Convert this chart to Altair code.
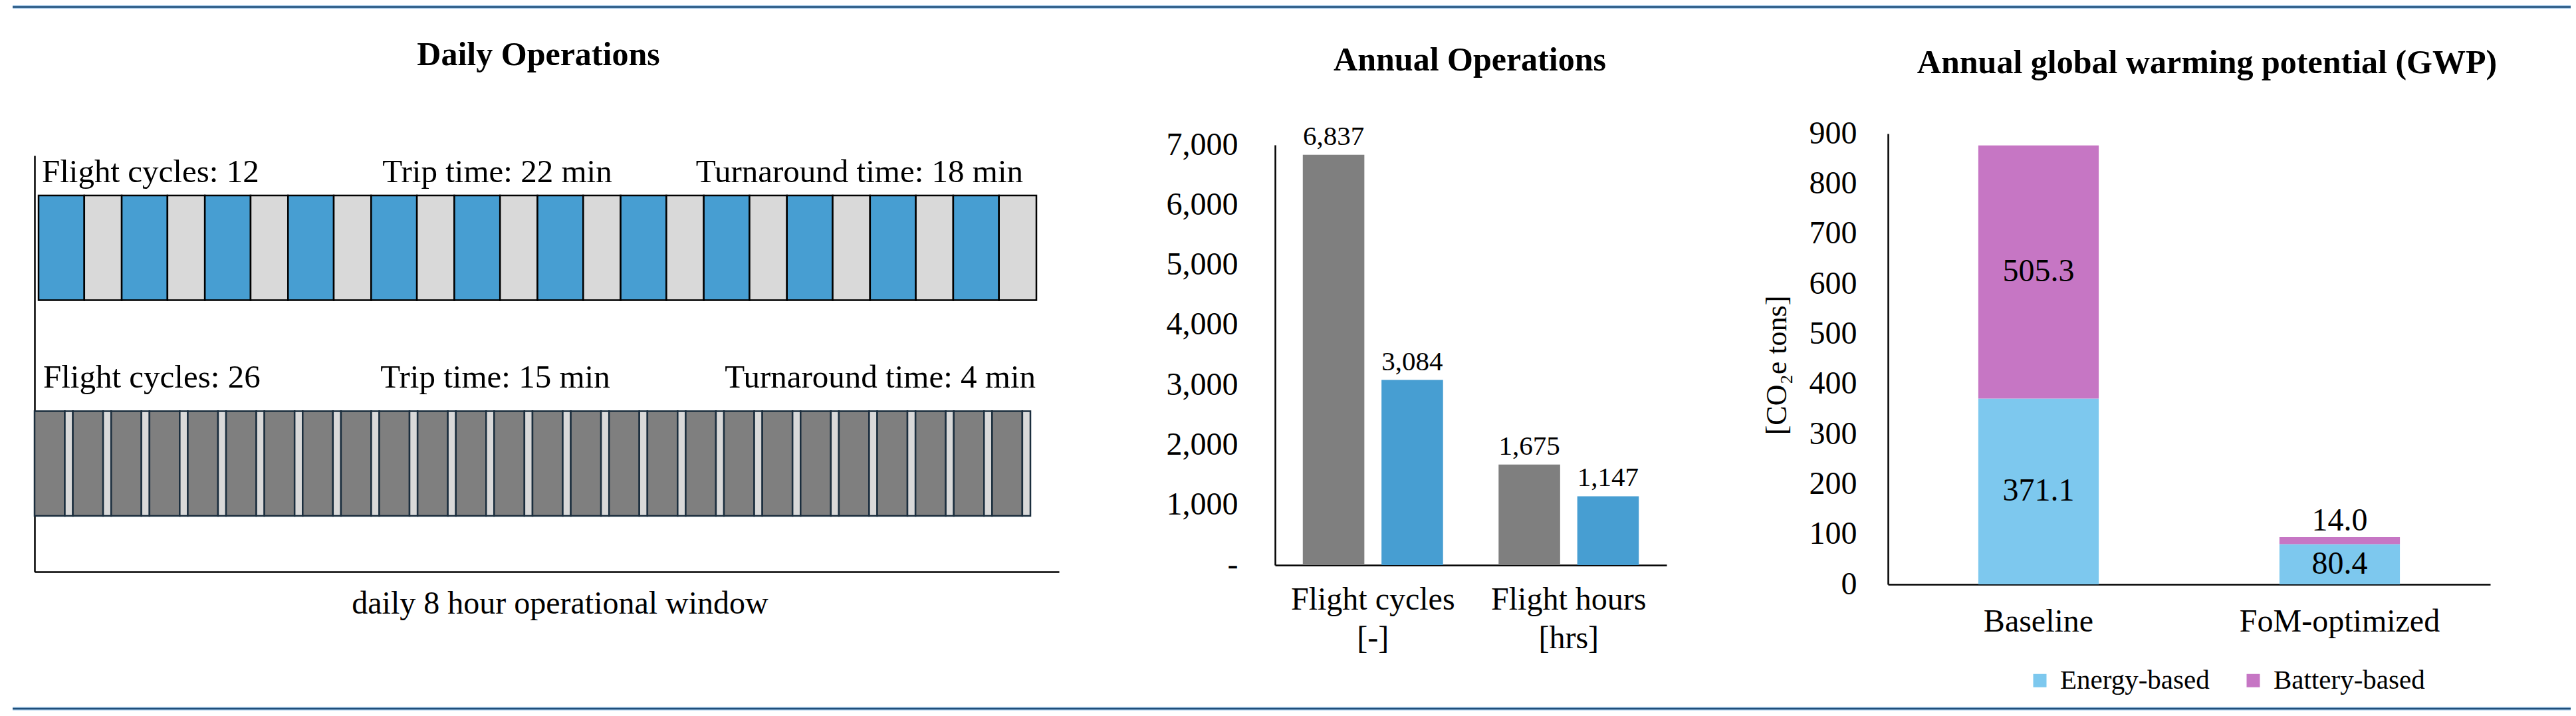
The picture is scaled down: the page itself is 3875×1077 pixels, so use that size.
import altair as alt
import pandas as pd

# ---------------- data ----------------
rows = ["FoM-optimized", "Baseline"]          # top row, bottom row
flight_cycles = [12, 26]
trip_time_min = [22, 15]
turnaround_min = [18, 4]
window_hours = 8

ops_metrics = ["Flight cycles|[-]", "Flight hours|[hrs]"]
ops_series = ["Baseline", "FoM-optimized"]
ops_baseline = [6837, 1675]
ops_optimized = [3084, 1147]
ops_ticks = [0, 1000, 2000, 3000, 4000, 5000, 6000, 7000]

gwp_configs = ["Baseline", "FoM-optimized"]
gwp_components = ["Energy-based", "Battery-based"]
gwp_energy = [371.1, 80.4]
gwp_battery = [505.3, 14.0]
gwp_ticks = [0, 100, 200, 300, 400, 500, 600, 700, 800, 900]

panel_titles = ["Daily Operations", "Annual Operations", "Annual global warming potential (GWP)"]
window_label = "daily 8 hour operational window"
gwp_axis_title = "[CO\u2082e tons]"

# ---------------- tables ----------------
seg = []
for r, n, t, ta in zip(rows, flight_cycles, trip_time_min, turnaround_min):
    for i in range(n):
        s = i * (t + ta)
        seg.append(dict(row=r, phase="Trip", start=s, end=s + t))
        seg.append(dict(row=r, phase="Turnaround", start=s + t, end=s + t + ta))
seg_df = pd.DataFrame(seg)

ops_df = pd.DataFrame(
    [dict(metric=m, series="Baseline", value=v) for m, v in zip(ops_metrics, ops_baseline)]
    + [dict(metric=m, series="FoM-optimized", value=v) for m, v in zip(ops_metrics, ops_optimized)]
)

gwp_df = pd.DataFrame(
    [dict(config=c, component="Energy-based", k=0, value=v) for c, v in zip(gwp_configs, gwp_energy)]
    + [dict(config=c, component="Battery-based", k=1, value=v) for c, v in zip(gwp_configs, gwp_battery)]
)

one = pd.DataFrame({"k": [0]})

SERIF = "Liberation Serif"
W, H = 3859, 1061

layers = []

# ---------------- frame lines (top / bottom) ----------------
for yy in (2.5, 1058):
    layers.append(alt.Chart(one).mark_rule(color="#9DC3E6", strokeWidth=5).encode(
        x=alt.value(11), x2=alt.value(W), y=alt.value(yy)))
    layers.append(alt.Chart(one).mark_rule(color="#1F4E79", strokeWidth=2.5).encode(
        x=alt.value(11), x2=alt.value(W), y=alt.value(yy)))

# ---------------- panel 1: daily operations ----------------
win_df = pd.DataFrame({"minute": [0, window_hours * 60], "level": [0, 1]})
layers.append(alt.Chart(win_df).mark_point(opacity=0).encode(
    x=alt.X("minute:Q",
            scale=alt.Scale(domain=[0, window_hours * 60], range=[44, 1585], nice=False, zero=False),
            axis=alt.Axis(orient="bottom", offset=852 - H, domain=True, domainColor="black",
                          domainWidth=2.5, ticks=False, labels=False, grid=False,
                          title=window_label, titleFont=SERIF, titleFontSize=48,
                          titleFontWeight="normal", titleColor="black", titleLimit=0,
                          titleX=834, titleY=62, titleBaseline="alphabetic")),
    y=alt.Y("level:Q",
            scale=alt.Scale(domain=[0, 1], range=[852, 226], nice=False),
            axis=alt.Axis(orient="left", offset=-44, domain=True, domainColor="black",
                          domainWidth=2.5, ticks=False, labels=False, grid=False, title=None)),
))

row_style = {
    "FoM-optimized": dict(xr=[50, 1551], fills=["#479ED2", "#D9D9D9"], stroke="#000000"),
    "Baseline": dict(xr=[44, 1542], fills=["#7F7F7F", "#D9D9D9"], stroke="#1B2E3E"),
}
for r, n, t, ta in zip(rows, flight_cycles, trip_time_min, turnaround_min):
    st = row_style[r]
    total = n * (t + ta)
    layers.append(alt.Chart(seg_df[seg_df.row == r]).mark_bar(stroke=st["stroke"], strokeWidth=2.5).encode(
        x=alt.X("start:Q", scale=alt.Scale(domain=[0, total], range=st["xr"], nice=False, zero=False), axis=None),
        x2="end:Q",
        y=alt.Y("row:N", scale=alt.Scale(domain=rows, range=[286, 768], paddingInner=0.515, paddingOuter=0), axis=None),
        color=alt.Color("phase:N", scale=alt.Scale(domain=["Trip", "Turnaround"], range=st["fills"]), legend=None),
    ))

# annotations above each row
ann_pos = {
    "FoM-optimized": dict(y=266, left=55, center=740, right=1531),
    "Baseline": dict(y=575, left=57, center=737, right=1550),
}
for r, n, t, ta in zip(rows, flight_cycles, trip_time_min, turnaround_min):
    p = ann_pos[r]
    for txt, key, al in ((f"Flight cycles: {n}", "left", "left"),
                         (f"Trip time: {t} min", "center", "center"),
                         (f"Turnaround time: {ta} min", "right", "right")):
        layers.append(alt.Chart(one).mark_text(font=SERIF, fontSize=49, align=al, baseline="alphabetic",
                                               color="black").encode(
            x=alt.value(p[key]), y=alt.value(p["y"]), text=alt.value(txt)))

# panel titles
for txt, xx, yy in zip(panel_titles, [802, 2203, 3312], [90, 98, 102]):
    layers.append(alt.Chart(one).mark_text(font=SERIF, fontSize=50, fontWeight="bold", align="center",
                                           baseline="alphabetic", color="black").encode(
        x=alt.value(xx), y=alt.value(yy), text=alt.value(txt)))

# ---------------- panel 2: annual operations ----------------
ops_x = alt.Scale(domain=ops_metrics, range=[1910, 2499], paddingInner=0, paddingOuter=0)
ops_xo = alt.Scale(domain=ops_series, paddingInner=0.218, paddingOuter=0.353)
ops_y = alt.Scale(domain=[0, 7000], range=[842, 210], nice=False)
ops_color = alt.Scale(domain=ops_series, range=["#7F7F7F", "#479ED2"])

layers.append(alt.Chart(ops_df).mark_bar().encode(
    x=alt.X("metric:N", scale=ops_x, sort=ops_metrics,
            axis=alt.Axis(orient="bottom", offset=842 - H, title=None, domainColor="black", domainWidth=2.5,
                          ticks=False, labelExpr="split(datum.value, '|')", labelFont=SERIF,
                          labelFontSize=48, labelColor="black", labelPadding=28, labelLineHeight=58,
                          labelAngle=0, labelLimit=0, grid=False)),
    xOffset=alt.XOffset("series:N", scale=ops_xo, sort=ops_series),
    y=alt.Y("value:Q", scale=ops_y,
            axis=alt.Axis(orient="left", offset=-1910, title=None, values=ops_ticks, domainColor="black",
                          domainWidth=2.5, ticks=False, tickSize=0, grid=False, labelLimit=0,
                          labelExpr="datum.value == 0 ? '-' : format(datum.value, ',')",
                          labelFont=SERIF, labelFontSize=48, labelColor="black", labelPadding=56)),
    color=alt.Color("series:N", scale=ops_color, legend=None),
))
layers.append(alt.Chart(ops_df).mark_text(font=SERIF, fontSize=41, baseline="alphabetic", dy=-15,
                                          color="black").encode(
    x=alt.X("metric:N", scale=ops_x, sort=ops_metrics, axis=None),
    xOffset=alt.XOffset("series:N", scale=ops_xo, sort=ops_series),
    y=alt.Y("value:Q", scale=ops_y, axis=None),
    text=alt.Text("value:Q", format=","),
))

# ---------------- panel 3: GWP ----------------
gwp_x = alt.Scale(domain=gwp_configs, range=[2832, 3738], paddingInner=0.6, paddingOuter=0.3)
gwp_y = alt.Scale(domain=[0, 900], range=[871, 193], nice=False)
gwp_color = alt.Scale(domain=gwp_components, range=["#7DC8EE", "#C676C4"])

gbase = alt.Chart(gwp_df).transform_stack(
    stack="value", groupby=["config"], as_=["y0", "y1"], sort=[alt.SortField("k", order="ascending")]
).transform_calculate(mid="(datum.y0 + datum.y1) / 2")

layers.append(gbase.mark_bar().encode(
    x=alt.X("config:N", scale=gwp_x, sort=gwp_configs,
            axis=alt.Axis(orient="bottom", offset=871 - H, title=None, domainColor="black", domainWidth=2.5,
                          ticks=False, labelFont=SERIF, labelFontSize=48, labelColor="black",
                          labelPadding=32, labelAngle=0, labelLimit=0, grid=False)),
    y=alt.Y("y0:Q", scale=gwp_y,
            axis=alt.Axis(orient="left", offset=-2832, values=gwp_ticks, domainColor="black",
                          domainWidth=2.5, ticks=False, tickSize=0, grid=False, labelLimit=0,
                          labelFont=SERIF, labelFontSize=48, labelColor="black", labelPadding=47,
                          title=gwp_axis_title, titleFont=SERIF, titleFontSize=44, titleFontWeight="normal",
                          titleColor="black", titleX=-167, titleY=541, titleBaseline="middle", titleAngle=270,
                          titleLimit=0)),
    y2="y1:Q",
    color=alt.Color("component:N", scale=gwp_color, sort=gwp_components,
                    legend=alt.Legend(orient="none", legendX=3040, legendY=995, direction="horizontal",
                                      title=None, symbolType="square", symbolSize=400, symbolStrokeWidth=0,
                                      symbolOpacity=1, labelFont=SERIF, labelFontSize=41, labelColor="black",
                                      labelOffset=10, columnPadding=45, labelLimit=0)),
))
layers.append(gbase.transform_filter("datum.value >= 50").mark_text(
    font=SERIF, fontSize=48, baseline="middle", color="black").encode(
    x=alt.X("config:N", scale=gwp_x, sort=gwp_configs, axis=None),
    y=alt.Y("mid:Q", scale=gwp_y, axis=None),
    text=alt.Text("value:Q", format=".1f"),
))
layers.append(gbase.transform_filter("datum.value < 50").mark_text(
    font=SERIF, fontSize=48, baseline="alphabetic", dy=-10, color="black").encode(
    x=alt.X("config:N", scale=gwp_x, sort=gwp_configs, axis=None),
    y=alt.Y("y1:Q", scale=gwp_y, axis=None),
    text=alt.Text("value:Q", format=".1f"),
))

chart = alt.layer(*layers).resolve_scale(
    x="independent", y="independent", color="independent"
).resolve_axis(
    x="independent", y="independent"
).properties(
    width=W, height=H, padding=0, autosize=alt.AutoSizeParams(type="none")
).configure_view(stroke=None).configure_axis(
    labelFont=SERIF, titleFont=SERIF
).configure_legend(
    labelFont=SERIF, titleFont=SERIF
).configure_text(font=SERIF)

chart.save("out.html", embed_options={"renderer": "svg", "actions": False})
